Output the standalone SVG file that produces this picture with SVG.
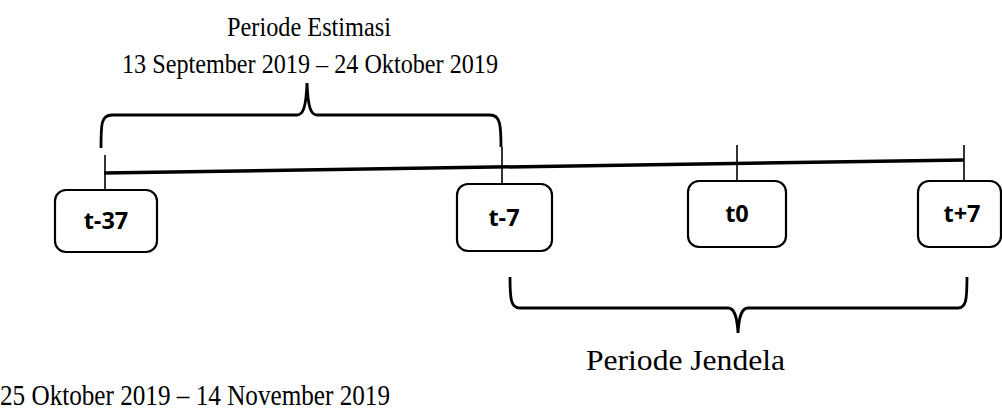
<svg xmlns="http://www.w3.org/2000/svg" width="1002" height="413" viewBox="0 0 1002 413">
  <style>
    .serif { font-family: "Liberation Serif", "Times New Roman", serif; fill: #000; }
    .box { fill: #fff; stroke: #000; stroke-width: 2.2; }
    .lbl { font-family: "Open Sans", "Liberation Sans", sans-serif; font-weight: bold; font-size: 23.5px; text-anchor: middle; fill: #000; }
    .tick { stroke: #000; stroke-width: 1.6; fill: none; }
    .brace { stroke: #000; stroke-width: 2.8; fill: none; stroke-linecap: butt; }
  </style>
  <rect width="1002" height="413" fill="#fff"/>

  <!-- period captions -->
  <g id="caption-estimasi">
    <text class="serif" x="227" y="36" font-size="28" textLength="164" lengthAdjust="spacingAndGlyphs">Periode Estimasi</text>
    <text class="serif" x="122" y="73" font-size="28" textLength="376" lengthAdjust="spacingAndGlyphs">13 September 2019 – 24 Oktober 2019</text>
  </g>
  <g id="caption-jendela">
    <text class="serif" x="586" y="370" font-size="30" textLength="199" lengthAdjust="spacingAndGlyphs">Periode Jendela</text>
    <text class="serif" x="0" y="405" font-size="30" textLength="390" lengthAdjust="spacingAndGlyphs">25 Oktober 2019 – 14 November 2019</text>
  </g>

  <!-- timeline, ticks and braces -->
  <g id="connectors">
    <line x1="104" y1="173" x2="964" y2="160" stroke="#000" stroke-width="3.5"/>
    <line class="tick" x1="105" y1="155" x2="105" y2="190"/>
    <line class="tick" x1="502" y1="147" x2="502" y2="184"/>
    <line class="tick" x1="737" y1="145" x2="737" y2="181"/>
    <line class="tick" x1="964" y1="145" x2="964" y2="181"/>
    <path class="brace" d="M101,148 C101,124 101,115 112,115 L297,115 C303,115 306,108 307,83 C308,108 311,115 317,115 L490,115 C500,115 501,124 501,147"/>
    <path class="brace" d="M510,277 C510,300 511,308 520,308 L728,308 C734,308 737,315 738,333 C739,315 742,308 748,308 L958,308 C966,308 967,300 967,277"/>
  </g>

  <!-- event-time nodes -->
  <g id="node-t-37">
    <rect class="box" x="55" y="190" width="102" height="62" rx="11"/>
    <text class="lbl" x="106" y="229">t-37</text>
  </g>
  <g id="node-t-7">
    <rect class="box" x="457" y="184" width="95" height="67" rx="11"/>
    <text class="lbl" x="504" y="226">t-7</text>
  </g>
  <g id="node-t0">
    <rect class="box" x="688" y="181" width="98" height="66" rx="11"/>
    <text class="lbl" x="737" y="222">t0</text>
  </g>
  <g id="node-t+7">
    <rect class="box" x="918" y="181" width="83" height="66" rx="11"/>
    <text class="lbl" x="962" y="222">t+7</text>
  </g>
</svg>
